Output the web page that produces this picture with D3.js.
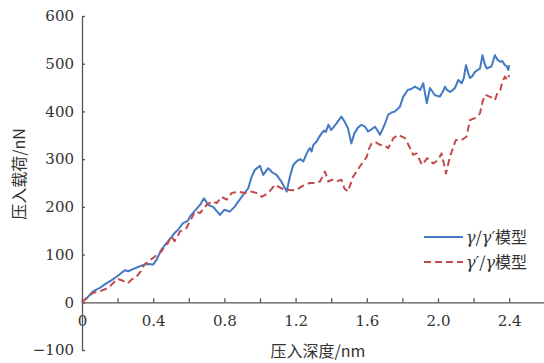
<!DOCTYPE html>
<html lang="zh">
<head>
<meta charset="UTF-8">
<title>压入载荷-深度曲线</title>
<script src="https://cdn.jsdelivr.net/npm/d3@7/dist/d3.min.js"></script>
<style>
  body { margin: 0; background: #fff; }
  svg { display: block; }
  .tick text { font-family: "DejaVu Serif", serif; font-size: 15px; fill: #333; }
  .axis path, .axis line { stroke: #555; stroke-width: 1.3; }
  .title { font-family: "Noto Sans CJK SC", "DejaVu Serif", serif; font-size: 16px; fill: #333; }
  .legend text { font-family: "Noto Sans CJK SC", serif; font-size: 16px; fill: #333; }
</style>
</head>
<body>
<div id="chart"></div>
<script>
  // gamma/gamma' model (solid blue)
  var depthBlue = [0, 0.03, 0.062, 0.1, 0.13, 0.165, 0.2, 0.24, 0.26, 0.29, 0.315, 0.35, 0.37, 0.4, 0.42, 0.445, 0.47, 0.49, 0.52, 0.54,
    0.567, 0.58, 0.595, 0.607, 0.635, 0.663, 0.685, 0.71, 0.737, 0.775, 0.8, 0.83, 0.857, 0.897, 0.934, 0.953, 0.97, 1.0, 1.018, 1.046,
    1.07, 1.093, 1.12, 1.15, 1.168, 1.187, 1.2, 1.215, 1.228, 1.243, 1.26, 1.27, 1.281, 1.29, 1.3, 1.318, 1.33, 1.346, 1.36, 1.37,
    1.384, 1.4, 1.415, 1.43, 1.445, 1.457, 1.475, 1.494, 1.513, 1.53, 1.55, 1.57, 1.59, 1.607, 1.625, 1.646, 1.66, 1.674, 1.7, 1.72,
    1.74, 1.758, 1.786, 1.805, 1.83, 1.85, 1.87, 1.885, 1.9, 1.917, 1.937, 1.955, 1.983, 2.01, 2.025, 2.04, 2.05, 2.067, 2.08, 2.095,
    2.114, 2.133, 2.145, 2.157, 2.17, 2.18, 2.195, 2.208, 2.22, 2.236, 2.25, 2.262, 2.273, 2.285, 2.3, 2.32, 2.335, 2.35, 2.36, 2.376,
    2.385, 2.395, 2.4]
  var loadBlue = [0, 10, 23, 30, 38, 46, 55, 67, 65, 70, 74, 79, 80, 79, 90, 110, 122, 131, 145, 152,
    166, 168, 171, 180, 192, 204, 218, 204, 200, 183, 194, 190, 200, 221, 239, 263, 277, 286, 267, 281,
    272, 267, 253, 232, 263, 288, 293, 298, 300, 295, 310, 318, 323, 316, 330, 337, 345, 354, 360, 357,
    372, 361, 368, 375, 383, 389, 379, 365, 333, 354, 366, 372, 368, 358, 362, 368, 360, 351, 372, 393,
    398, 400, 410, 431, 445, 447, 452, 449, 445, 459, 417, 449, 434, 431, 440, 452, 445, 441, 444, 449,
    466, 459, 470, 497, 480, 470, 475, 483, 486, 490, 518, 500, 490, 492, 494, 518, 508, 504, 506, 497,
    495, 487, 497]

  // gamma'/gamma model (dashed red)
  var depthRed = [0, 0.03, 0.062, 0.1, 0.146, 0.2, 0.23, 0.258, 0.28, 0.305, 0.33, 0.35, 0.41, 0.445, 0.47, 0.483, 0.5, 0.51, 0.52, 0.54,
    0.55, 0.56, 0.586, 0.6, 0.635, 0.663, 0.7, 0.729, 0.757, 0.785, 0.813, 0.841, 0.878, 0.916, 0.953, 0.98, 1.01, 1.046, 1.084, 1.12,
    1.14, 1.18, 1.206, 1.24, 1.28, 1.31, 1.337, 1.365, 1.384, 1.405, 1.43, 1.457, 1.475, 1.494, 1.523, 1.56, 1.6, 1.61, 1.627, 1.65,
    1.674, 1.7, 1.72, 1.75, 1.776, 1.815, 1.843, 1.86, 1.88, 1.91, 1.94, 1.973, 2.0, 2.02, 2.045, 2.067, 2.1, 2.133, 2.16, 2.18,
    2.208, 2.22, 2.236, 2.25, 2.264, 2.29, 2.31, 2.32, 2.335, 2.35, 2.36, 2.376, 2.39, 2.4]
  var loadRed = [0, 10, 20, 23, 30, 49, 45, 40, 48, 53, 65, 79, 96, 106, 120, 124, 138, 134, 128, 141,
    148, 150, 155, 165, 190, 187, 204, 211, 208, 221, 215, 229, 232, 229, 232, 229, 221, 229, 246, 239,
    236, 235, 236, 244, 250, 250, 253, 274, 253, 257, 253, 257, 238, 232, 263, 284, 305, 320, 333, 335,
    330, 328, 323, 344, 351, 344, 323, 309, 312, 288, 302, 291, 298, 312, 270, 305, 340, 340, 347, 382,
    386, 390, 396, 420, 435, 431, 428, 424, 440, 445, 460, 473, 466, 476]

  var xTicks = [0, 0.2, 0.4, 0.6, 0.8, 1.0, 1.2, 1.4, 1.6, 1.8, 2.0, 2.2, 2.4]
  var xLabels = [0, 0.4, 0.8, 1.2, 1.6, 2.0, 2.4]
  var yTicks = [-100, 0, 100, 200, 300, 400, 500, 600]

  var series = [
    { name: 'blue', depth: depthBlue, load: loadBlue, color: '#4479c3', dash: null },
    { name: 'red', depth: depthRed, load: loadRed, color: '#c34a4b', dash: '7,4' }
  ]

  var width = 544, height = 363

  var x = d3.scaleLinear().domain([0, 2.6]).range([82, 544.8])
  var y = d3.scaleLinear().domain([-100, 600]).range([350, 16])

  var svg = d3.select('#chart').append('svg')
      .attr('width', width)
      .attr('height', height)

  // axes
  var xAxis = d3.axisBottom(x)
      .tickValues(xTicks)
      .tickSizeInner(-4)
      .tickSizeOuter(0)
      .tickPadding(13)
      .tickFormat(function(d) {
        return xLabels.some(function(v) { return Math.abs(v - d) < 1e-9 }) ? (d === 0 ? '0' : d3.format('.1f')(d)) : ''
      })

  svg.append('g')
      .attr('class', 'axis')
      .attr('transform', 'translate(0,' + y(0) + ')')
      .call(xAxis)

  var yAxis = d3.axisLeft(y)
      .tickValues(yTicks)
      .tickSizeInner(-3)
      .tickSizeOuter(0)
      .tickPadding(8)
      .tickFormat(function(d) { return d < 0 ? '\u2212' + Math.abs(d) : d })

  svg.append('g')
      .attr('class', 'axis')
      .attr('transform', 'translate(' + x(0) + ',0)')
      .call(yAxis)

  // lines
  var line = d3.line()
      .x(function(d) { return x(d[0]) })
      .y(function(d) { return y(d[1]) })

  series.forEach(function(s) {
    var pts = s.depth.map(function(d, i) { return [d, s.load[i]] })
    svg.append('path')
        .datum(pts)
        .attr('d', line)
        .attr('fill', 'none')
        .attr('stroke', s.color)
        .attr('stroke-width', 2)
        .attr('stroke-linejoin', 'round')
        .attr('stroke-dasharray', s.dash)
  })

  // axis titles
  svg.append('text')
      .attr('class', 'title')
      .attr('x', 318)
      .attr('y', 357)
      .attr('text-anchor', 'middle')
      .text('压入深度/nm')

  svg.append('text')
      .attr('class', 'title')
      .attr('transform', 'translate(25,174) rotate(-90)')
      .attr('text-anchor', 'middle')
      .text('压入载荷/nN')

  // legend
  var legend = svg.append('g').attr('class', 'legend')
  var legendRows = [
    { s: series[0], parts: [['γ', true], ['/', false], ['γ′', true], ['模型', false]] },
    { s: series[1], parts: [['γ′', true], ['/', false], ['γ', true], ['模型', false]] }
  ]
  legendRows.forEach(function(r, i) {
    var ly = 237 + i * 25
    legend.append('line')
        .attr('x1', 424).attr('x2', 463)
        .attr('y1', ly).attr('y2', ly)
        .attr('stroke', r.s.color)
        .attr('stroke-width', 2)
        .attr('stroke-dasharray', r.s.dash)
    var t = legend.append('text')
        .attr('x', 466)
        .attr('y', ly + 6)
    r.parts.forEach(function(p) {
      t.append('tspan')
          .style('font-family', p[1] ? '"DejaVu Serif", serif' : null)
          .style('font-style', p[1] ? 'italic' : null)
          .text(p[0])
    })
  })
</script>
</body>
</html>
